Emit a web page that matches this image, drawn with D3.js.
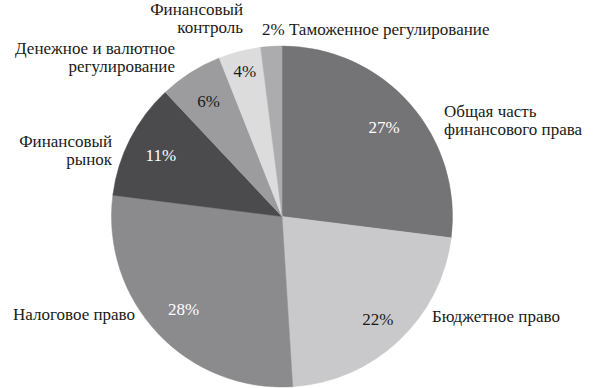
<!DOCTYPE html>
<html>
<head>
<meta charset="utf-8">
<script src="https://cdn.jsdelivr.net/npm/d3@7"></script>
<style>
html,body{margin:0;padding:0;background:#fff;}
svg{display:block;font-family:"Liberation Serif","Times New Roman",Tinos,serif;}
svg text, svg tspan{font-family:"Liberation Serif","Times New Roman",Tinos,serif !important;}
</style>
</head>
<body>
<svg id="chart" width="599" height="388" font-family="Liberation Serif"></svg>
<script>
const categories = ["Общая часть финансового права","Бюджетное право","Налоговое право","Финансовый рынок","Денежное и валютное регулирование","Финансовый контроль","Таможенное регулирование"];
const values = [27, 22, 28, 11, 6, 4, 2];
const colors = ["#747476","#c9c9cb","#8b8b8d","#4b4b4d","#9c9c9e","#dcdcdd","#acacae"];
const pctColors = ["#ffffff","#1a1a1a","#ffffff","#ffffff","#1a1a1a","#1a1a1a",null];

const FONT_STACK = '"Liberation Serif", "Times New Roman", Tinos, serif';
const FS = 17;

// outer label layout (text placement only)
const outerLabels = [
  {lines:["Общая часть","финансового права"], x:444, y:117, anchor:"start"},
  {lines:["Бюджетное право"], x:432, y:322, anchor:"start"},
  {lines:["Налоговое право"], x:135, y:320, anchor:"end"},
  {lines:["Финансовый","рынок"], x:112, y:147, anchor:"end"},
  {lines:["Денежное и валютное","регулирование"], x:175, y:54, anchor:"end"},
  {lines:["Финансовый","контроль"], x:243, y:15, anchor:"end"},
  {lines:["2% Таможенное регулирование"], x:262, y:35, anchor:"start"}
];
const pctRadius = [136, 140, 135, 136, 137, 150, 0];

const svg = d3.select("#chart");
const cx = 282, cy = 216.5, R = 170.5;
const g = svg.append("g").attr("transform", `translate(${cx},${cy})`);

const pie = d3.pie().sort(null).value(d => d);
const arcs = pie(values);
const arc = d3.arc().innerRadius(0).outerRadius(R);

g.selectAll("path").data(arcs).enter().append("path")
  .attr("d", arc)
  .attr("fill", (d,i) => colors[i])
  .attr("stroke", (d,i) => colors[i])
  .attr("stroke-width", 0.5);

function styleText(sel) {
  sel.attr("font-family", "Liberation Serif")
     .style("font-family", FONT_STACK)
     .attr("font-size", FS);
  return sel;
}

arcs.forEach((a,i) => {
  if (!pctColors[i]) return;
  const la = d3.arc().innerRadius(pctRadius[i]).outerRadius(pctRadius[i]);
  const [x,y] = la.centroid(a);
  styleText(g.append("text"))
    .attr("x", x).attr("y", y + 6)
    .attr("text-anchor","middle")
    .attr("fill", pctColors[i])
    .text(values[i] + "%");
});

outerLabels.forEach(l => {
  const t = styleText(svg.append("text"))
    .attr("text-anchor", l.anchor)
    .attr("fill", "#1a1a1a");
  l.lines.forEach((s,j) => {
    t.append("tspan").attr("x", l.x).attr("y", l.y + j*18).text(s);
  });
});
</script>
</body>
</html>
